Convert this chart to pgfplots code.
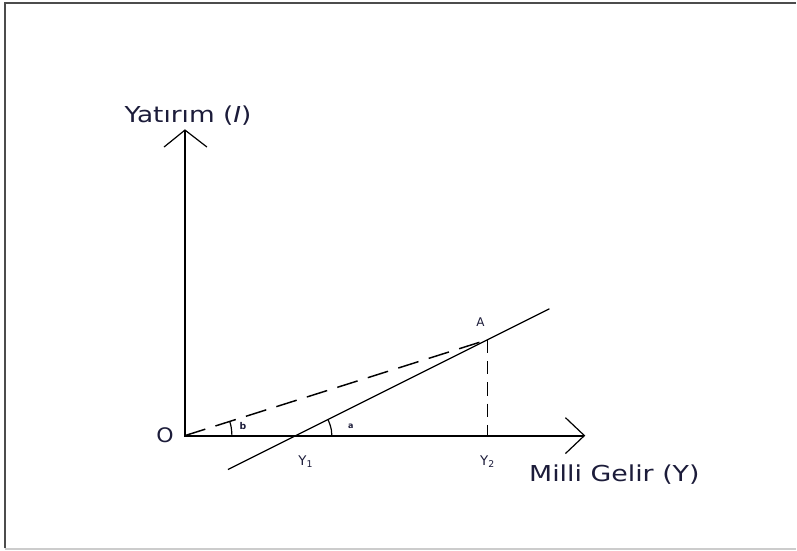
\documentclass[border=0pt]{standalone}
\usepackage{pgfplots}
\pgfplotsset{compat=1.18}
\usepackage{fontspec}
\setmainfont{DejaVu Sans}
\definecolor{txt}{HTML}{1C1C3A}
\begin{document}
\begin{tikzpicture}
\begin{axis}[
  width=597.75pt, height=413.25pt, scale only axis,
  xmin=0, xmax=797, ymin=0, ymax=551,
  hide axis, clip=false,
]
% frame
\addplot[draw=white, fill=white] coordinates {(0,0) (797,0) (797,551) (0,551)} -- cycle;
\addplot[color=black!70, line width=1.4pt] coordinates {(5,2) (5,548) (797,548)};
\addplot[color=black!20, line width=1.2pt] coordinates {(5,1.5) (797,1.5)};
% axes
\addplot[black, line width=1.4pt] coordinates {(185,421) (185,115) (585,115)};
\addplot[black, line width=0.9pt] coordinates {(164,404) (185,421) (207,404)};
\addplot[black, line width=0.9pt] coordinates {(566,133) (585,115) (566,97)};
% investment line
\addplot[black, line width=0.9pt] coordinates {(228,81) (550,242)};
% ray from origin to A
\addplot[black, line width=1.1pt, dash pattern=on 16pt off 8pt] coordinates {(185,115) (488,211)};
% drop line from A
\addplot[black, line width=1.3pt, dash pattern=on 10pt off 6pt] coordinates {(488,211) (488,115)};
% angle arcs
\addplot[black, line width=0.9pt, smooth] coordinates {(232,115) (231.7,119.9) (231,124.8) (229.8,129.2)};
\addplot[black, line width=0.9pt, smooth] coordinates {(332,115) (331.6,120.6) (330.2,126.1) (328.2,131.1)};
% labels
\node[txt, font=\fontsize{16.5}{19}\selectfont] at (axis cs:188,435) {\scalebox{1.2}[1]{Yatırım (\textit{I})}};
\node[txt, font=\fontsize{16.5}{19}\selectfont] at (axis cs:615,76) {\scalebox{1.22}[1]{Milli Gelir (Y)}};
\node[txt, font=\fontsize{15}{18}\selectfont] at (axis cs:165,115) {\scalebox{1.1}[1]{O}};
\node[txt, font=\bfseries\fontsize{7}{8}\selectfont] at (axis cs:243,125) {b};
\node[txt, font=\bfseries\fontsize{6}{7}\selectfont] at (axis cs:351,124) {a};
\node[txt, font=\fontsize{10}{11}\selectfont] at (axis cs:306,89) {Y\textsubscript{1}};
\node[txt, font=\fontsize{10}{11}\selectfont] at (axis cs:488,89) {Y\textsubscript{2}};
\node[txt, font=\fontsize{9}{10}\selectfont] at (axis cs:481,229) {A};
\end{axis}
\end{tikzpicture}
\end{document}
